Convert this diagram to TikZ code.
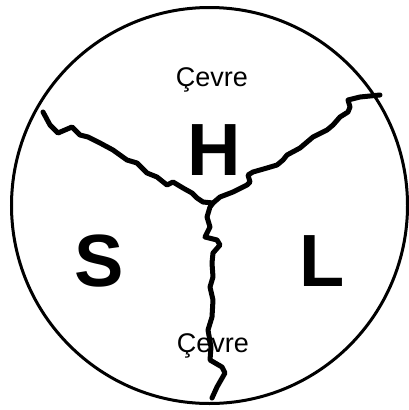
\documentclass[tikz,border=0pt]{standalone}
\usepackage{fontspec}
\setmainfont{Liberation Sans}
\usetikzlibrary{calc}
\colorlet{inkblack}{black}
\tikzset{
  crack/.style={inkblack, line width=5pt, line join=round, line cap=round},
  region/.style={font=\fontsize{74}{74}\selectfont\bfseries, inkblack, inner sep=0pt},
  envlabel/.style={font=\fontsize{27}{27}\selectfont, inkblack, inner sep=0pt}
}
\begin{document}
\begin{tikzpicture}[x=1pt,y=-1pt]
  \useasboundingbox (0,0) rectangle (408,410);
  \draw[inkblack, line width=3pt] (209.5,205.5) circle (198);

  \coordinate (mid) at (213,203);

  \node[envlabel] (topenv) at (212,80) {Çevre};
  \node[envlabel] (botenv) at (213,346) {Çevre};

  % upper left border
  \draw[crack] (mid) -- (203,202) -- (197,198) -- (192,193) -- (183,188) -- (173,182)
    -- (167,185) -- (157,177) -- (147,173) -- (137,163) -- (127,160) -- (113,150)
    -- (100,143) -- (88,137) -- (80,135) -- (72,127) -- (58,133) -- (50,125) -- (43,112);

  % upper right border
  \draw[crack] (mid) -- (220,197) -- (233,192) -- (247,185) -- (250,182) -- (248,175)
    -- (253,172) -- (267,168) -- (277,165) -- (283,160) -- (287,155) -- (300,148)
    -- (313,137) -- (327,130) -- (333,125) -- (340,117) -- (348,112) -- (350,107)
    -- (348,100) -- (360,97) -- (380,95);

  % lower border
  \draw[crack] (mid) -- (210,207) -- (207,217) -- (210,227) -- (205,237) -- (217,240)
    -- (220,245) -- (213,253) -- (212,263) -- (213,277) -- (210,287) -- (213,300)
    -- (212,317) -- (208,330) -- (211,347) -- (210,360) -- (222,367) -- (225,373)
    -- (217,387) -- (212,398);

  \node[region] (h) at (214,150) {H};
  \node[region] (s) at (99,261) {S};
  \node[region] (l) at (322,261) {L};
\end{tikzpicture}
\end{document}
